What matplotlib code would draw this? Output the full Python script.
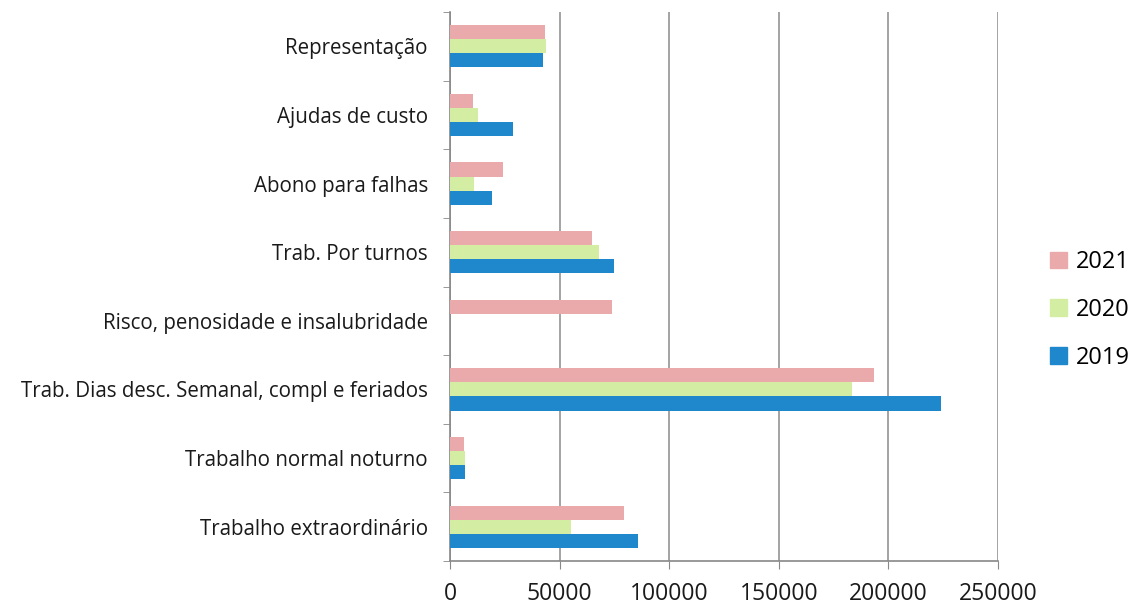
import matplotlib
matplotlib.use("Agg")
import matplotlib.pyplot as plt
import numpy as np
from matplotlib.patches import Patch

categories = ["Representação", "Ajudas de custo", "Abono para falhas", "Trab. Por turnos",
              "Risco, penosidade e insalubridade", "Trab. Dias desc. Semanal, compl e feriados",
              "Trabalho normal noturno", "Trabalho extraordinário"]
v2021 = [43400, 10600, 24100, 64700, 74100, 193300, 6400, 79500]
v2020 = [43800, 12600, 11100, 68000, 0, 183200, 6700, 55200]
v2019 = [42300, 28800, 19200, 74700, 0, 224200, 6800, 85800]
xticks = [0, 50000, 100000, 150000, 200000, 250000]

plt.rcParams['font.family'] = ['Open Sans', 'DejaVu Sans']

fig = plt.figure(figsize=(11.31, 6.05), dpi=100)
ax = fig.add_axes([450/1131, 1-561/605, 548/1131, 549/605])

n = len(categories)
pos = np.arange(n)[::-1].astype(float)  # top category at highest y
h = 0.205
c21, c20, c19 = "#EAA9AA", "#D3EDA2", "#1F87CB"
ax.barh(pos + h, v2021, height=h, color=c21, zorder=3)
ax.barh(pos, v2020, height=h, color=c20, zorder=3)
ax.barh(pos - h, v2019, height=h, color=c19, zorder=3)

ax.set_xlim(0, 250000)
ax.set_ylim(-0.5, n - 0.5)
ax.set_xticks(xticks)
ax.set_xticklabels([str(t) for t in xticks], fontsize=16.5, color="#1a1a1a")
ax.set_yticks(pos)
ax.set_yticklabels(categories, fontsize=14.8, color="#1a1a1a")
ax.set_yticks(np.arange(-0.5, n, 1.0), minor=True)
ax.tick_params(axis='y', which='major', length=0, pad=16)
ax.tick_params(axis='y', which='minor', length=5, color="#888888", direction='out')
ax.tick_params(axis='x', which='major', length=6, color="#888888", direction='out', pad=9)

ax.grid(axis='x', color="#8a8a8a", linewidth=1.1, zorder=0)
ax.set_axisbelow(True)
for s in ['top', 'right']:
    ax.spines[s].set_visible(False)
for s in ['left', 'bottom']:
    ax.spines[s].set_color("#888888")
    ax.spines[s].set_linewidth(1.2)

handles = [Patch(color=c21, label="2021"), Patch(color=c20, label="2020"), Patch(color=c19, label="2019")]
fig.legend(handles=handles, loc='center left', bbox_to_anchor=(1050/1131, 1-310/605),
           frameon=False, fontsize=17, handlelength=0.7, handleheight=0.7,
           labelspacing=1.0, handletextpad=0.4, borderpad=0, borderaxespad=0)

fig.savefig("out.png", dpi=100, facecolor="white")
